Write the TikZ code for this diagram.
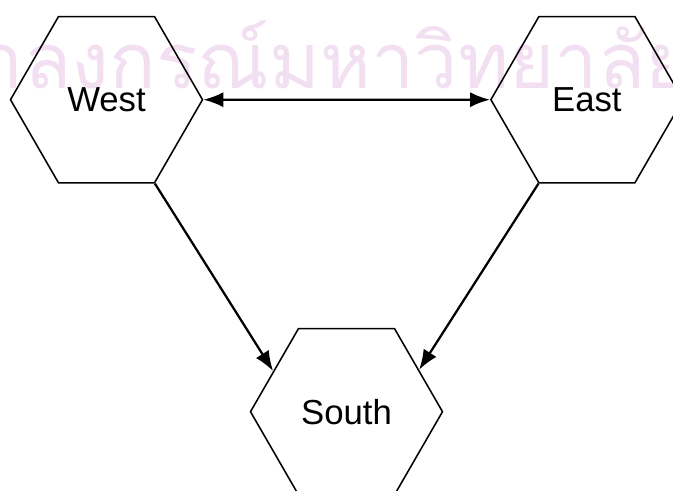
\documentclass[tikz,border=0pt]{standalone}
\usepackage{fontspec}
\setmainfont{Liberation Sans}
\newfontfamily\thaifont[Script=Thai]{Loma}
\usepackage{tikz}
\usetikzlibrary{shapes.geometric, arrows.meta}
\definecolor{markpink}{RGB}{242,224,242}
\tikzstyle{region} = [font=\fontsize{24.7}{30}\selectfont, regular polygon, regular polygon sides=6, minimum size=4.8cm, inner sep=0pt, draw=black, line width=1.1pt]
\tikzstyle{stamp} = [font=\thaifont\fontsize{55}{55}\selectfont, text=markpink, inner sep=0pt]
\tikzstyle{arrow} = [line width=1.6pt,->,>={Latex[length=5mm,width=3.8mm]}]

\begin{document}
\begin{tikzpicture}
  \clip (-2.6625,-9.7825) rectangle (14.1625,2.4925);
  \node (watermark) [stamp, anchor=base east] at (14.6125,0.2675) {จุฬาลงกรณ์มหาวิทยาลัย};
  \node (west) [region] {West};
  \node (east) [region, right of=west, xshift=11.01cm] {East};
  \node (south) [region, below of=west, yshift=-6.8cm, xshift=6cm] {South};
  \draw[arrow,<->](west) -- (east);
  \draw[arrow](west.-60) -- (south.151.5);
  \draw[arrow](east.240) -- (south.30);
\end{tikzpicture}
\end{document}
